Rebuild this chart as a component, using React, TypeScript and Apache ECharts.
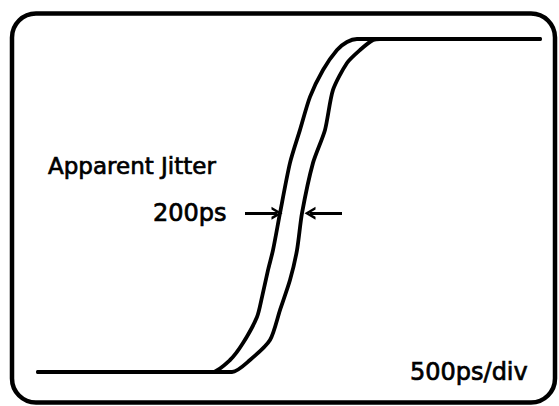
import React, { useEffect, useRef } from "react";
import * as echarts from "echarts";

// Time axis in picoseconds, amplitude normalized 0..1
const edgeA_t = [0, 1740, 1920, 2050, 2190, 2240, 2300, 2350, 2420, 2520, 2620, 2720, 2850, 2990, 3090, 3190, 5020];
const edgeA_v = [0, 0, 0.036, 0.087, 0.165, 0.225, 0.306, 0.366, 0.477, 0.628, 0.727, 0.826, 0.907, 0.967, 0.991, 1, 1];
const edgeB_t = [0, 1940, 2120, 2320, 2420, 2520, 2590, 2640, 2750, 2870, 2950, 3090, 3220, 3350, 3420, 5020];
const edgeB_v = [0, 0, 0.036, 0.096, 0.186, 0.276, 0.366, 0.477, 0.628, 0.727, 0.847, 0.928, 0.967, 0.997, 1, 1];

const arrowLevel = 0.477;
const leftArrow = [2070, 2390];
const rightArrow = [3040, 2720];

const titleText = "Apparent Jitter";
const jitterText = "200ps";
const scaleText = "500ps/div";

const chevron = "path://M0,12 L6,0 L12,12 L9.4,12 L6,5.2 L2.6,12 Z";

export default function App() {
  const ref = useRef<HTMLDivElement>(null);
  useEffect(() => {
    if (!ref.current) return;
    const chart = echarts.init(ref.current, undefined, { renderer: "svg" });
    const font = "DejaVu Sans";
    const lineStyle = { color: "#000", width: 3.8, join: "round", cap: "round" };
    const textStyle = (text: string, size: number) => ({
      text,
      font: `${size}px '${font}'`,
      fill: "#000",
      stroke: "#000",
      lineWidth: 0.7,
      verticalAlign: "middle",
      align: "left",
    });
    chart.setOption({
      animation: false,
      backgroundColor: "#fff",
      grid: { left: 38, top: 39, width: 502, height: 333 },
      xAxis: { type: "value", min: 0, max: 5020, show: false },
      yAxis: { type: "value", min: 0, max: 1, show: false },
      series: [
        {
          type: "line",
          data: edgeA_t.map((t, i) => [t, edgeA_v[i]]),
          showSymbol: false,
          clip: false,
          smooth: 0.25,
          lineStyle,
          markLine: {
            silent: true,
            symbol: ["none", chevron],
            symbolSize: [13, 11],
            label: { show: false },
            lineStyle: { color: "#000", width: 3, type: "solid" },
            data: [
              [{ coord: [leftArrow[0], arrowLevel] }, { coord: [leftArrow[1], arrowLevel] }],
              [{ coord: [rightArrow[0], arrowLevel] }, { coord: [rightArrow[1], arrowLevel] }],
            ],
          },
        },
        {
          type: "line",
          data: edgeB_t.map((t, i) => [t, edgeB_v[i]]),
          showSymbol: false,
          clip: false,
          smooth: 0.25,
          lineStyle,
        },
      ],
      graphic: [
        {
          type: "rect",
          shape: { x: 12, y: 13.5, width: 543, height: 389, r: 24 },
          style: { fill: "none", stroke: "#000", lineWidth: 4.5 },
        },
        { type: "text", x: 48, y: 166, style: textStyle(titleText, 23) },
        { type: "text", x: 153, y: 213, style: textStyle(jitterText, 24) },
        { type: "text", x: 410, y: 372, style: textStyle(scaleText, 24) },
      ],
    });
    return () => chart.dispose();
  }, []);
  return (
    <div
      ref={ref}
      style={{ position: "absolute", left: 0, top: 0, width: 559, height: 406 }}
    />
  );
}
